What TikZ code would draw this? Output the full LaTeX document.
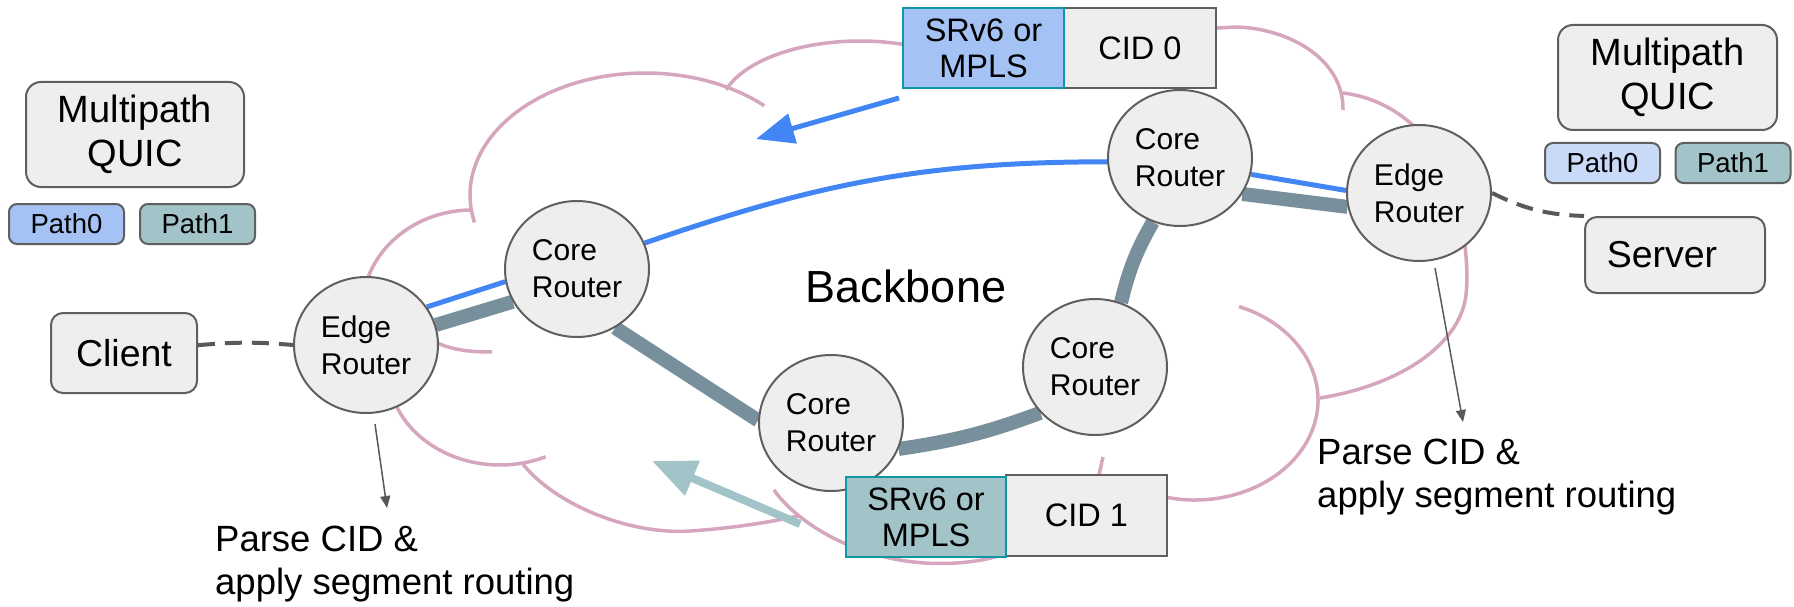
\documentclass[tikz,border=0pt]{standalone}
\usepackage{fontspec}
\setmainfont{Liberation Sans}
\usetikzlibrary{shapes.geometric,arrows.meta,calc}
\definecolor{boxfill}{HTML}{EEEEEE}
\definecolor{boxline}{HTML}{5F5F5F}
\definecolor{cloudpink}{HTML}{D5A6BD}
\definecolor{pathblue}{HTML}{4285F4}
\definecolor{pathgrey}{HTML}{78909C}
\definecolor{lightblue}{HTML}{A4C2F4}
\definecolor{paleblue}{HTML}{C9DAF8}
\definecolor{tealfill}{HTML}{A2C4C9}
\definecolor{tealline}{HTML}{1297A2}
\definecolor{darkline}{HTML}{595959}
\pgfdeclarelayer{bg}
\pgfdeclarelayer{mid}
\pgfsetlayers{bg,mid,main}
% elliptical cloud arc: centre x, centre y, x radius, y radius, start, end
\newcommand{\cldarc}[6]{\draw[cloudline] (#1,#2) ++(#5:#3 and #4) arc[start angle=#5, end angle=#6, x radius=#3, y radius=#4];}
\begin{document}
\begin{tikzpicture}[x=1pt,y=1pt,
  router/.style={ellipse, draw=boxline, line width=2pt, fill=boxfill,
    minimum width=144pt, minimum height=136pt, inner sep=0pt, align=left,
    font=\fontsize{30}{37}\selectfont},
  rbox/.style={draw=boxline, line width=2pt, fill=boxfill, rounded corners=15pt,
    inner sep=0pt, align=center, font=\fontsize{38}{44}\selectfont},
  pbox/.style={draw=boxline, line width=2pt, rounded corners=8pt, inner sep=0pt,
    minimum width=115pt, minimum height=40pt, font=\fontsize{27.5}{32}\selectfont},
  sbox/.style={draw=tealline, line width=2pt, inner sep=0pt, align=center,
    minimum width=161pt, minimum height=80pt, font=\fontsize{32.5}{36}\selectfont},
  cbox/.style={draw=boxline, line width=2pt, fill=boxfill, inner sep=0pt,
    minimum width=152pt, minimum height=80pt, font=\fontsize{32.5}{36}\selectfont},
  lbl/.style={inner sep=0pt, align=left, font=\fontsize{36.5}{43}\selectfont},
  greyline/.style={draw=pathgrey, line width=14pt},
  blueline/.style={draw=pathblue, line width=5pt},
  dashline/.style={draw=darkline, line width=4pt, dash pattern=on 17pt off 10pt},
  cloudline/.style={draw=cloudpink, line width=3.5pt},
  thinarrow/.style={draw=darkline, line width=1.5pt, -{Triangle[length=12pt,width=10pt]}},
]
\useasboundingbox (0,0) rectangle (1794,-607);

% ---------- cloud ----------
\begin{pgfonlayer}{bg}
\cldarc{860}{-110}{140}{69}{163}{60}
\cldarc{645}{-195}{175}{122}{47}{193}
\cldarc{472}{-310}{110}{100}{90}{195}
\cldarc{500}{-370}{112}{95}{195}{294}
\draw[cloudline] (415,-330) .. controls (440,-348) and (460,-352) .. (492,-352);
\draw[cloudline] (522,-463) .. controls (555,-505) and (630,-535) .. (690,-531)
  .. controls (735,-528) and (770,-522) .. (798,-516);
\draw[cloudline] (774,-490) .. controls (795,-520) and (850,-558) .. (925,-563)
  .. controls (975,-566) and (1015,-555) .. (1045,-535);
\draw[cloudline] (1103,-457) .. controls (1100,-470) and (1098,-480) .. (1094,-495);
\cldarc{1195}{-400}{123}{100}{69}{-110}
\draw[cloudline] (1343,-93) .. controls (1385,-98) and (1425,-125) .. (1445,-170)
  .. controls (1460,-205) and (1470,-255) .. (1466,-295)
  .. controls (1460,-345) and (1400,-385) .. (1320,-398);
\draw[cloudline] (1343,-110) .. controls (1344,-60) and (1290,-28) .. (1235,-27) -- (1200,-29);
\end{pgfonlayer}

% ---------- side boxes ----------
\node[rbox, minimum width=218pt, minimum height=105pt] (mqL) at (135,-134.5) {Multipath\\QUIC};
\node[pbox, fill=lightblue] (p0L) at (66.5,-224) {Path0};
\node[pbox, fill=tealfill] (p1L) at (197.5,-224) {Path1};
\node[rbox, minimum width=219pt, minimum height=105pt] (mqR) at (1667.5,-77.5) {Multipath\\QUIC};
\node[pbox, fill=paleblue] (p0R) at (1602.5,-163) {Path0};
\node[pbox, fill=tealfill] (p1R) at (1733,-163) {Path1};
\node[rbox, rounded corners=12pt, font=\fontsize{37.5}{44}\selectfont, minimum width=146pt, minimum height=80pt] (client) at (124,-353) {Client};
\node[rbox, rounded corners=12pt, font=\fontsize{37.5}{44}\selectfont, minimum width=180pt, minimum height=76pt] (server) at (1675,-255) {\hspace*{-26pt}Server};

% ---------- routers ----------
\node[router] (eL) at (366,-345) {Edge\\Router};
\node[router] (cA) at (577,-269) {Core\\Router};
\node[router] (cB) at (831,-423) {Core\\Router};
\node[router] (cC) at (1095,-367) {Core\\Router};
\node[router] (cD) at (1180,-158) {Core\\Router};
\node[router] (eR) at (1419,-193) {Edge\\Router};

\node[inner sep=0pt, font=\fontsize{45}{54}\selectfont] (bb) at (906,-286) {Backbone};

% ---------- header boxes ----------
\node[cbox] (cid0) at (1140,-48) {CID 0};
\node[sbox, fill=lightblue] (s0) at (983.5,-48) {SRv6 or\\MPLS};
\node[cbox, minimum width=161pt, minimum height=81pt] (cid1) at (1086.5,-515.5) {CID 1};
\node[sbox, fill=tealfill, minimum width=160pt] (s1) at (926,-517) {SRv6 or\\MPLS};

% ---------- labels ----------
\node[lbl, anchor=west] (lblL) at (215,-564) {Parse CID \&\\apply segment routing};
\node[lbl, anchor=west] (lblR) at (1317,-477) {Parse CID \&\\apply segment routing};

% ---------- connectors ----------
\begin{pgfonlayer}{mid}
\draw[greyline] (eL.16) -- (cA.207);
\draw[blueline] (eL.32) -- (cA.190);
\draw[greyline] (cA.303) -- (cB.178);
\draw[greyline] (cB.-21) to[bend right=6] (cC.220);
\draw[greyline] (cC.68) to[bend left=8] (cD.247);
\draw[greyline] (cD.-30) -- (eR.191);
\draw[blueline] (cA.21) to[out=19,in=180] (cD.183);
\draw[blueline] (cD.-13) -- (eR.178);
\draw[dashline] (client.6) to[bend left=5] (eL.west);
\draw[dashline] (eR.east) to[bend right=12] (server.north west);
\end{pgfonlayer}

\coordinate (a0tip) at (756,-139);
\coordinate (a1tip) at (652,-461);
\coordinate (hL) at (387,-508);
\coordinate (hR) at (1463,-422);
\draw[draw=pathblue, line width=5pt, -{Triangle[length=38pt,width=30pt]}] ([shift={(-3,-9)}]s0.south west) -- (a0tip);
\draw[draw=tealfill, line width=8pt, -{Triangle[length=44pt,width=36pt]}] ([shift={(-45,-7)}]s1.west) -- (a1tip);
\draw[thinarrow] ([shift={(9,-10)}]eL.south) -- (hL);
\draw[thinarrow] ([shift={(16,-6)}]eR.south) -- (hR);
\end{tikzpicture}
\end{document}
